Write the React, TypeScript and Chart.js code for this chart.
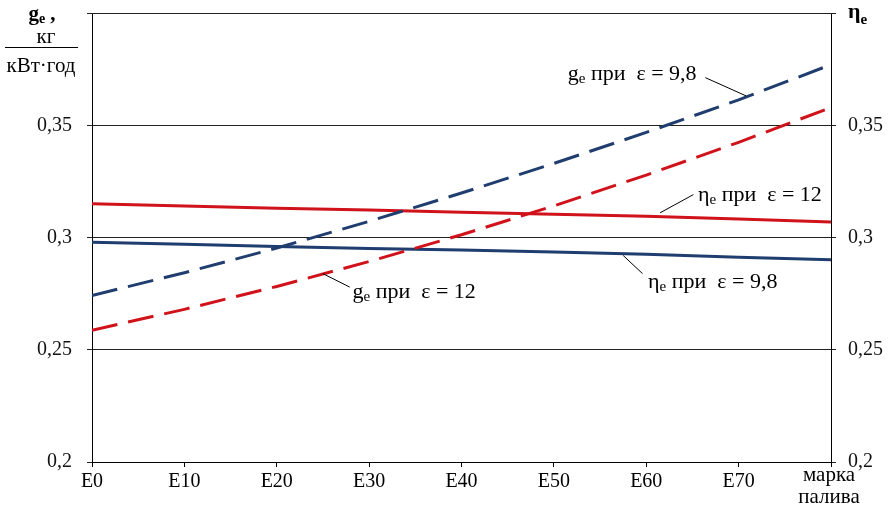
import React, { useEffect, useRef } from 'react';
import { Chart, registerables } from 'chart.js';

Chart.register(...registerables);

const SERIF = '"Liberation Serif", "DejaVu Serif", serif';

// Fuel grade (ethanol %, E0 ... E80)
const fuelGrades = [0, 10, 20, 30, 40, 50, 60, 70, 80];
const xTickLabels = ['E0', 'E10', 'E20', 'E30', 'E40', 'E50', 'E60', 'E70', ''];

// Specific fuel consumption g_e, kg/(kW·h)
const geEps98 = [0.2742, 0.2843, 0.2953, 0.3072, 0.3198, 0.333, 0.3468, 0.3613, 0.377];
const geEps12 = [0.2587, 0.268, 0.2782, 0.2893, 0.3012, 0.3141, 0.3278, 0.3424, 0.3579];
// Effective efficiency eta_e
const etaEps12 = [0.315, 0.314, 0.313, 0.3122, 0.3113, 0.3104, 0.3095, 0.3082, 0.3069];
const etaEps98 = [0.2979, 0.297, 0.296, 0.2951, 0.2944, 0.2935, 0.2925, 0.2912, 0.2901];

const yMin = 0.2;
const yMax = 0.4;
const yStep = 0.05;

const BLUE = '#1f3d6e';
const RED = '#d0121b';

const annotations = [
  { base: 'g', sub: 'e', rest: ' при  ε = 9,8', x: 51.5, y: 0.3702, leader: [66.4, 0.3712, 70.8, 0.3631] },
  { base: 'η', sub: 'e', rest: ' при  ε = 12', x: 65.6, y: 0.3164, leader: [65.1, 0.3191, 61.5, 0.311] },
  { base: 'η', sub: 'e', rest: ' при  ε = 9,8', x: 60.2, y: 0.2776, leader: [59.6, 0.2839, 57.5, 0.292] },
  { base: 'g', sub: 'e', rest: ' при  ε = 12', x: 28.2, y: 0.2732, leader: [27.9, 0.2779, 25.0, 0.2839] },
];

const fmt = (v: number) => String(Math.round(v * 100) / 100).replace('.', ',');
const tickColor = (c: any) => (c.tick && c.tick.value > yMax - 1e-6 ? 'rgba(0,0,0,0)' : '#111');

const overlayPlugin = {
  id: 'overlay',
  afterDraw(chart: any) {
    const { ctx, scales, chartArea } = chart;
    const xs = scales.x;
    const ys = scales.y;
    ctx.save();
    ctx.fillStyle = '#000';
    ctx.textAlign = 'left';
    ctx.textBaseline = 'alphabetic';

    // top frame line (grid at max)
    const yTop = Math.round(ys.getPixelForValue(yMax)) + 0.5;
    ctx.lineWidth = 1;
    ctx.strokeStyle = '#222';
    ctx.beginPath();
    ctx.moveTo(chartArea.left - 5, yTop);
    ctx.lineTo(chartArea.right + 5, yTop);
    ctx.stroke();

    ctx.strokeStyle = '#000';
    for (const a of annotations) {
      ctx.lineWidth = 1;
      ctx.beginPath();
      ctx.moveTo(xs.getPixelForValue(a.leader[0]), ys.getPixelForValue(a.leader[1]));
      ctx.lineTo(xs.getPixelForValue(a.leader[2]), ys.getPixelForValue(a.leader[3]));
      ctx.stroke();
      let px = xs.getPixelForValue(a.x);
      const py = ys.getPixelForValue(a.y);
      ctx.font = `22px ${SERIF}`;
      ctx.fillText(a.base, px, py);
      px += ctx.measureText(a.base).width;
      ctx.font = `15px ${SERIF}`;
      ctx.fillText(a.sub, px, py + 3);
      px += ctx.measureText(a.sub).width;
      ctx.font = `22px ${SERIF}`;
      ctx.fillText(a.rest, px, py);
    }

    // Left axis title: g_e, kg / (kW·h)
    const L = chartArea.left;
    ctx.font = `bold 21px ${SERIF}`;
    const gW = ctx.measureText('g').width;
    ctx.font = `bold 14px ${SERIF}`;
    const eW = ctx.measureText('e').width;
    ctx.font = `bold 21px ${SERIF}`;
    const cW = ctx.measureText(' ,').width;
    let tx = L - 50 - (gW + eW + cW) / 2;
    ctx.fillText('g', tx, 20);
    tx += gW;
    ctx.font = `bold 14px ${SERIF}`;
    ctx.fillText('e', tx, 23);
    tx += eW;
    ctx.font = `bold 21px ${SERIF}`;
    ctx.fillText(' ,', tx, 20);

    ctx.font = `21px ${SERIF}`;
    ctx.textAlign = 'center';
    ctx.fillText('кг', L - 46, 43);
    ctx.fillText('кВт·год', L - 51, 72);
    ctx.lineWidth = 1;
    ctx.beginPath();
    ctx.moveTo(L - 87, 47.5);
    ctx.lineTo(L - 14, 47.5);
    ctx.stroke();

    // Right axis title: eta_e
    const R = chartArea.right;
    ctx.textAlign = 'left';
    ctx.font = `bold 22px ${SERIF}`;
    ctx.fillText('η', R + 17, 18);
    const hW = ctx.measureText('η').width;
    ctx.font = `bold 15px ${SERIF}`;
    ctx.fillText('e', R + 17 + hW, 24);

    // X axis title
    ctx.textAlign = 'center';
    ctx.font = `21px ${SERIF}`;
    ctx.fillText('марка', R - 2, 481);
    ctx.fillText('палива', R - 2, 503);
    ctx.restore();
  },
};

export default function App() {
  const ref = useRef<HTMLCanvasElement | null>(null);

  useEffect(() => {
    if (!ref.current) return;
    const chart = new Chart(ref.current, {
      type: 'line',
      data: {
        labels: fuelGrades,
        datasets: [
          { label: 'ge ε=9,8', data: fuelGrades.map((x, i) => ({ x, y: geEps98[i] })), borderColor: BLUE, borderWidth: 3, borderDash: [26, 11], pointRadius: 0, yAxisID: 'y', fill: false },
          { label: 'ge ε=12', data: fuelGrades.map((x, i) => ({ x, y: geEps12[i] })), borderColor: RED, borderWidth: 3, borderDash: [26, 11], pointRadius: 0, yAxisID: 'y', fill: false },
          { label: 'ηe ε=12', data: fuelGrades.map((x, i) => ({ x, y: etaEps12[i] })), borderColor: RED, borderWidth: 3, pointRadius: 0, yAxisID: 'y1', fill: false },
          { label: 'ηe ε=9,8', data: fuelGrades.map((x, i) => ({ x, y: etaEps98[i] })), borderColor: BLUE, borderWidth: 3, pointRadius: 0, yAxisID: 'y1', fill: false },
        ],
      },
      options: {
        responsive: false,
        animation: false,
        layout: { padding: { top: 13, left: 0, right: 0, bottom: 0 } },
        plugins: { legend: { display: false }, tooltip: { enabled: false } },
        scales: {
          x: {
            type: 'linear',
            min: 0,
            max: 80,
            ticks: {
              stepSize: 10,
              color: '#000',
              font: { family: SERIF, size: 20 },
              padding: 3,
              maxRotation: 0,
              autoSkip: false,
              callback: (v: any) => xTickLabels[fuelGrades.indexOf(Number(v))] ?? '',
            },
            grid: { drawOnChartArea: false, tickLength: 5, color: '#000' },
            border: { color: '#000', width: 1 },
            afterFit: (s: any) => { s.height = 45; s.paddingLeft = 0; s.paddingRight = 0; },
          },
          y: {
            position: 'left',
            min: yMin,
            max: yMax,
            ticks: { stepSize: yStep, color: tickColor, font: { family: SERIF, size: 20 }, padding: 15, callback: (v: any) => fmt(Number(v)) },
            grid: { color: '#222', lineWidth: 1, tickLength: 5 },
            border: { color: '#000', width: 1 },
            afterFit: (s: any) => { s.width = 92; s.paddingTop = 0; s.paddingBottom = 0; },
          },
          y1: {
            position: 'right',
            min: yMin,
            max: yMax,
            ticks: { stepSize: yStep, color: tickColor, font: { family: SERIF, size: 20 }, padding: 12, callback: (v: any) => fmt(Number(v)) },
            grid: { drawOnChartArea: false, color: '#222', tickLength: 5 },
            border: { color: '#000', width: 1 },
            afterFit: (s: any) => { s.width = 60; s.paddingTop = 0; s.paddingBottom = 0; },
          },
        },
      },
      plugins: [overlayPlugin],
    });
    return () => chart.destroy();
  }, []);

  return (
    <div style={{ position: 'absolute', left: 0, top: 0, width: 891, height: 507, background: '#fff' }}>
      <canvas ref={ref} width={891} height={507} />
    </div>
  );
}
